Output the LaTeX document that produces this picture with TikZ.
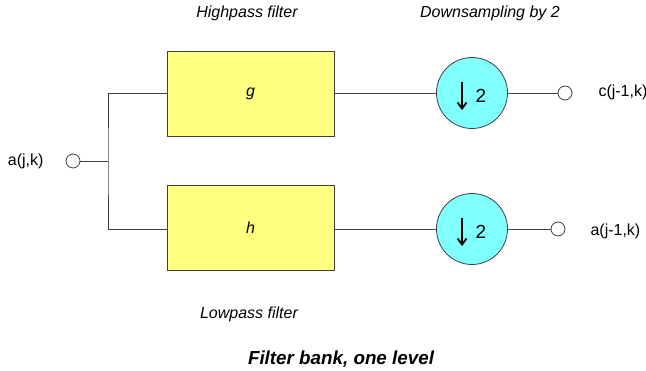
\documentclass[tikz,border=0pt]{standalone}
\usepackage{fontspec}
\setmainfont{Liberation Sans}
\usetikzlibrary{arrows.meta}
\definecolor{boxyellow}{HTML}{FFFF80}
\definecolor{downcyan}{HTML}{80FFFF}
\definecolor{edgegray}{HTML}{404040}
\tikzset{
  filterbox/.style={draw=edgegray, line width=0.9pt, fill=boxyellow, minimum width=167pt, minimum height=85pt, font=\fontsize{16}{19}\selectfont\itshape},
  downcircle/.style={circle, draw=edgegray, line width=0.8pt, fill=downcyan, minimum size=71pt, inner sep=0pt},
  port/.style={circle, draw=edgegray, line width=0.8pt, fill=white, minimum size=14pt, inner sep=0pt},
  lbl/.style={font=\fontsize{16}{19}\selectfont},
  ttl/.style={font=\fontsize{16}{19}\selectfont\itshape},
  wire/.style={draw=edgegray, line width=0.9pt}
}
\begin{document}
\begin{tikzpicture}[x=1pt,y=-1pt]
  \useasboundingbox (0,0) rectangle (646,371);
  % filters
  \node[filterbox] (g) at (250.5,94) {g};
  \node[filterbox] (h) at (250.5,228) {h};
  % downsamplers
  \foreach \n/\y in {gd/93, hd/229} {
    \node[downcircle] (\n) at (472,\y) {};
    \draw[line width=1.8pt, -{Straight Barb[length=6pt,width=9pt]}] ([shift={(-10,-11)}]\n.center) -- ([shift={(-10,17)}]\n.center);
    \node[font=\fontsize{19}{22}\selectfont, anchor=west] at ([shift={(0,3)}]\n.center) {2};
  }
  % ports
  \node[port] (in) at (73,161) {};
  \node[port] (cout) at (565,93) {};
  \node[port] (aout) at (558,229) {};
  \coordinate (split) at (108,161);
  \node[lbl, anchor=east] at (47,161) {a(j,k)};
  \node[lbl, anchor=west] at (595,92) {c(j-1,k)};
  \node[lbl, anchor=west] at (587,231) {a(j-1,k)};
  % wires
  \draw[wire] (in) -- (split);
  \draw[wire] (g.west |- 0,93) -| (split) |- (h.west |- 0,229);
  \draw[wire] (g.east |- gd) -- (gd);
  \draw[wire] (h.east |- hd) -- (hd);
  \draw[wire] (gd) -- (cout);
  \draw[wire] (hd) -- (aout);
  % titles
  \node[ttl] at (247,13) {Highpass filter};
  \node[ttl] at (490,13) {Downsampling by 2};
  \node[ttl] at (249,314) {Lowpass filter};
  \node[font=\fontsize{18.8}{22}\selectfont\bfseries\itshape] at (341,359) {Filter bank, one level};
\end{tikzpicture}
\end{document}
